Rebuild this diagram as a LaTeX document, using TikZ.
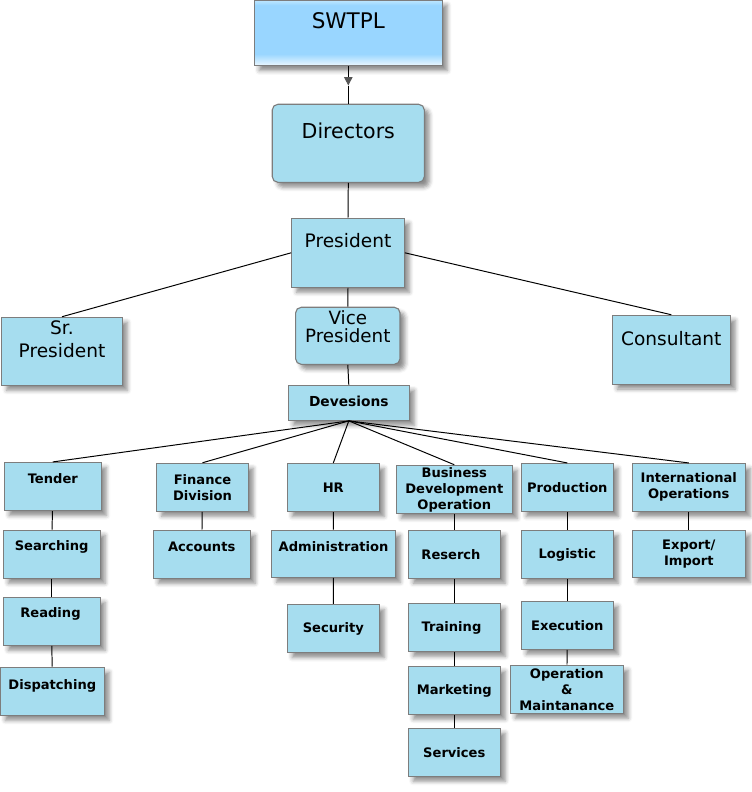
\documentclass[tikz,border=0pt]{standalone}
\usepackage{fontspec}
\setmainfont{DejaVu Sans}
\usepackage{xcolor}
\usetikzlibrary{arrows.meta,shadows.blur}

\definecolor{boxblue}{RGB}{166,221,239}
\definecolor{boxline}{RGB}{125,125,125}
\definecolor{swmid}{RGB}{153,214,255}
\definecolor{swtop}{RGB}{190,231,255}
\definecolor{swbot}{RGB}{236,248,255}
\definecolor{tipgray}{RGB}{85,85,85}
\pgfdeclareverticalshading{swtplshade}{100bp}{color(0bp)=(swbot); color(25bp)=(swbot); color(34bp)=(swmid); color(71bp)=(swmid); color(75bp)=(swtop); color(100bp)=(swtop)}

\tikzset{
  unit/.style={draw=boxline, line width=0.8pt, fill=boxblue, inner sep=0pt,
    blur shadow={shadow xshift=3.5pt, shadow yshift=-3.5pt, shadow blur radius=3pt, shadow opacity=45}},
  small/.style={unit, minimum width=2.3cm, minimum height=1.2cm},
  big text/.style={inner sep=0pt, align=center, font=\fontsize{13.2}{16.4}\selectfont},
  small text/.style={inner sep=0pt, align=center, font=\fontsize{9.3}{11.4}\selectfont\bfseries},
  link/.style={line width=0.7pt}
}

\begin{document}
\begin{tikzpicture}[x=0.025cm,y=-0.025cm]

\useasboundingbox (0,0) rectangle (752,792);

\node[draw=boxline, line width=0.8pt, shading=swtplshade, minimum width=4.7cm, minimum height=1.64cm,
  blur shadow={shadow xshift=3.5pt, shadow yshift=-3.5pt, shadow blur radius=3pt, shadow opacity=45}]
  (swtpl) at (348.3,32.9) {};
\node[big text, font=\fontsize{15.3}{18}\selectfont] (swtpl-l) at (348.3,21) {SWTPL};

\node[unit, rounded corners=4pt, minimum width=3.8cm, minimum height=1.95cm] (dir) at (348.3,143.3) {};
\node[big text, font=\fontsize{14.6}{18}\selectfont] (dir-l) at (348.3,131) {Directors};

\node[unit, minimum width=2.815cm, minimum height=1.725cm] (pres) at (348,252.8) {};
\node[big text] (pres-l) at (348,241) {President};

\node[unit, minimum width=3.015cm, minimum height=1.7cm] (srp) at (62,351.3) {};
\node[big text] (srp-l) at (62,339.7) {Sr.\\President};

\node[unit, rounded corners=4pt, minimum width=2.61cm, minimum height=1.425cm] (vp) at (347.8,335.8) {};
\node[big text, font=\fontsize{13}{12.8}\selectfont] (vp-l) at (347.8,327) {Vice\\President};

\node[unit, minimum width=2.95cm, minimum height=1.72cm] (cons) at (671.3,349.7) {};
\node[big text] (cons-l) at (671.3,339) {Consultant};

\node[unit, minimum width=3.025cm, minimum height=0.875cm] (dev) at (348.8,402.8) {};
\node[small text, font=\fontsize{9.8}{12}\selectfont\bfseries] (dev-l) at (348.8,401.3) {Devesions};

\node[small, minimum width=2.425cm] (tender) at (52.8,486.5) {};
\node[small text] (tender-l) at (52.8,478.3) {Tender};
\node[small, minimum width=2.42cm] (search) at (51.7,554.3) {};
\node[small text] (search-l) at (51.7,546.8) {Searching};
\node[small, minimum width=2.42cm] (read) at (51.7,621.3) {};
\node[small text] (read-l) at (50.5,614) {Reading};
\node[small, minimum width=2.6cm] (disp) at (52.3,691.3) {};
\node[small text] (disp-l) at (52.3,686) {Dispatching};

\node[small, minimum width=2.29cm] (fin) at (202.5,487.3) {};
\node[small text] (fin-l) at (202.5,487.3) {Finance\\Division};
\node[small, minimum width=2.42cm] (acc) at (201.7,554.3) {};
\node[small text] (acc-l) at (201.7,546.5) {Accounts};

\node[small] (hr) at (333.3,487.5) {};
\node[small text] (hr-l) at (333.3,487.3) {HR};
\node[small, minimum width=3.09cm, minimum height=1.175cm] (admin) at (333.5,553.8) {};
\node[small text] (admin-l) at (333.5,547) {Administration};
\node[small] (secu) at (333.3,628.5) {};
\node[small text] (secu-l) at (333.3,629) {Security};

\node[small, minimum width=2.9cm] (bdo) at (454.3,489.3) {};
\node[small text] (bdo-l) at (454.3,490) {Business\\Development\\Operation};
\node[small] (res) at (454.3,554.2) {};
\node[small text] (res-l) at (451,554.7) {Reserch};
\node[small] (train) at (454.3,627.3) {};
\node[small text] (train-l) at (451.5,627.5) {Training};
\node[small] (mark) at (454.3,690.3) {};
\node[small text] (mark-l) at (454.3,691) {Marketing};
\node[small] (serv) at (454.3,752.2) {};
\node[small text] (serv-l) at (454.3,752.5) {Services};

\node[small] (prod) at (567.3,487.5) {};
\node[small text] (prod-l) at (567.3,487.5) {Production};
\node[small] (logi) at (567.3,554.2) {};
\node[small text] (logi-l) at (567.3,555) {Logistic};
\node[small] (exec) at (567.3,625.3) {};
\node[small text] (exec-l) at (567.3,625.5) {Execution};
\node[small, minimum width=2.825cm] (opm) at (566.8,689.2) {};
\node[small text] (opm-l) at (566.8,689.5) {Operation\\\&\\Maintanance};

\node[small, minimum width=2.825cm] (intl) at (688.8,487.5) {};
\node[small text] (intl-l) at (688.8,487.3) {International\\Operations};
\node[small, minimum width=2.825cm, minimum height=1.18cm] (exp) at (688.8,553.7) {};
\node[small text] (exp-l) at (688.8,553.7) {Export/\\Import};

\coordinate (tip) at (348.3,85.5);
\draw[link,-{Triangle[length=6pt,width=6pt,color=tipgray]}] (swtpl.south) -- (tip);
\draw[link] (tip) -- (dir.north);
\draw[link] (dir.south) -- (pres.north);
\draw[link] (pres.west) -- (srp.north);
\draw[link] (pres.east) -- (cons.north);
\draw[link] (pres.south) -- (vp.north);
\draw[link] (vp.south) -- (dev.north);

\draw[link] (dev.south) -- (tender.north);
\draw[link] (dev.south) -- (fin.north);
\draw[link] (dev.south) -- (hr.north);
\draw[link] (dev.south) -- (bdo.north);
\draw[link] (dev.south) -- (prod.north);
\draw[link] (dev.south) -- (intl.north);

\draw[link] (tender) -- (search);
\draw[link] (search) -- (read);
\draw[link] (read) -- (disp);
\draw[link] (fin) -- (acc);
\draw[link] (hr) -- (admin);
\draw[link] (admin) -- (secu);
\draw[link] (bdo) -- (res);
\draw[link] (res) -- (train);
\draw[link] (train) -- (mark);
\draw[link] (mark) -- (serv);
\draw[link] (prod) -- (logi);
\draw[link] (logi) -- (exec);
\draw[link] (exec) -- (opm);
\draw[link] (intl) -- (exp);

\end{tikzpicture}
\end{document}
